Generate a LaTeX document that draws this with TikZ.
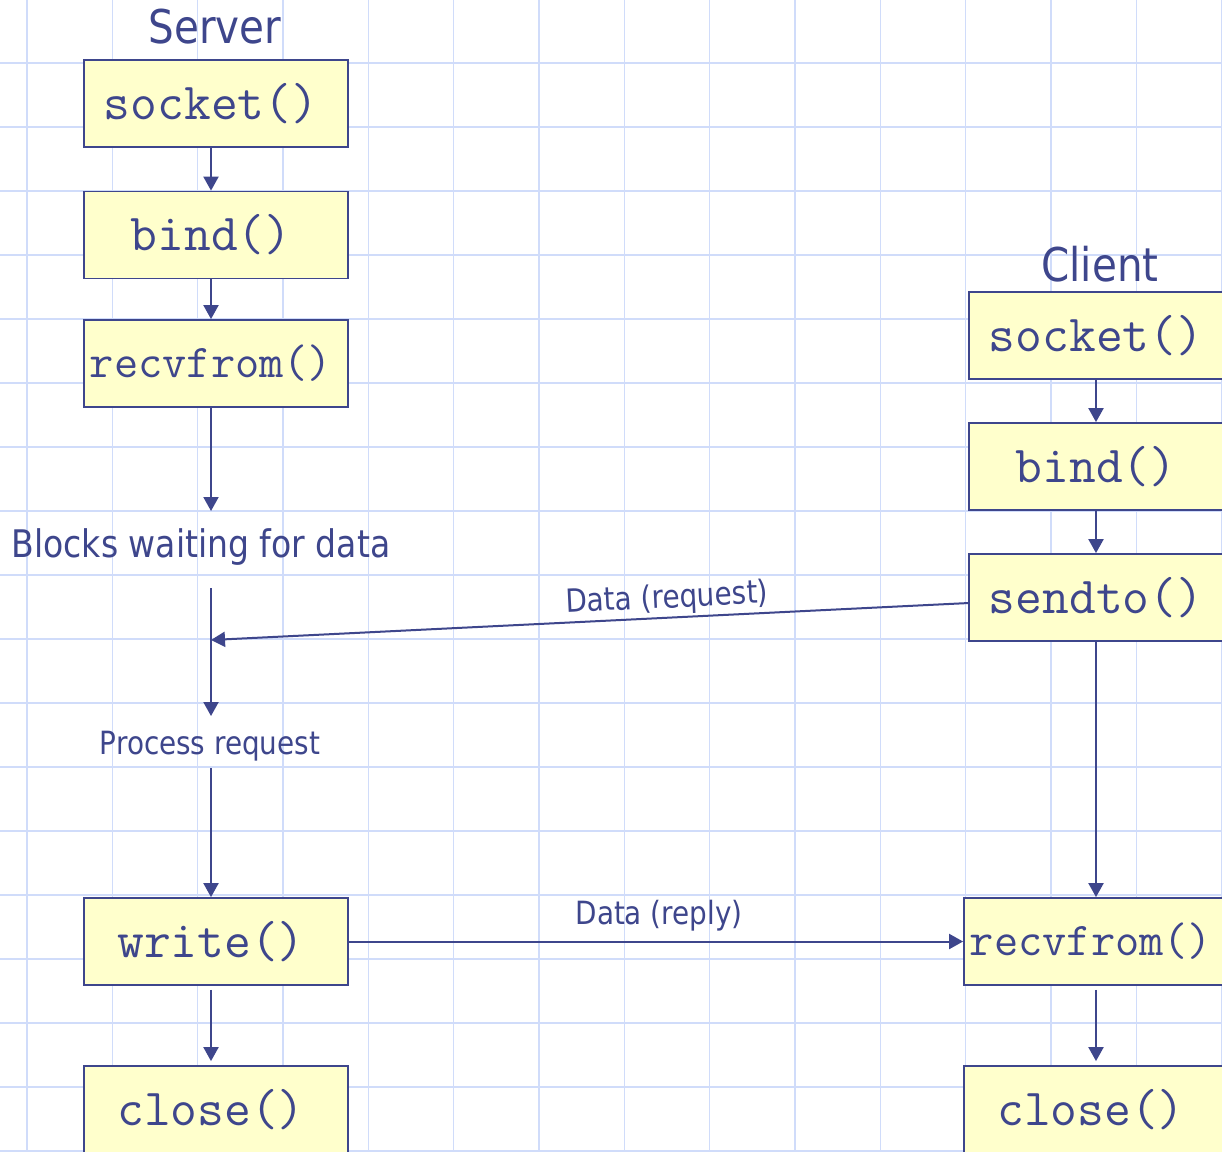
\documentclass[tikz,border=0pt]{standalone}
\usepackage{fontspec}
\setmainfont[FakeStretch=0.87]{DejaVu Sans}
\usetikzlibrary{arrows.meta}
\definecolor{ink}{RGB}{62,70,140}
\definecolor{gridc}{RGB}{208,220,250}
\definecolor{boxfill}{RGB}{255,255,204}
\begin{document}
\begin{tikzpicture}[x=1pt,y=-1pt,
  gridline/.style={draw=gridc, line width=1.4pt},
  callbox/.style={draw=ink, fill=boxfill, line width=1.8pt, minimum width=264pt,
    minimum height=87pt, inner sep=0pt, text=ink,
    font=\ttfamily\fontsize{52}{56}\selectfont, execute at end node={\kern10pt}},
  smallcall/.style={callbox, font=\ttfamily\fontsize{47}{50}\selectfont},
  title/.style={text=ink, inner sep=0pt, font=\fontsize{46.5}{50}\selectfont},
  note/.style={text=ink, inner sep=0pt, font=\fontsize{38}{42}\selectfont},
  lbl/.style={text=ink, inner sep=0pt, font=\fontsize{32}{36}\selectfont},
  arr/.style={draw=ink, line width=2pt, -{Triangle[length=14pt,width=15pt]}},
  seg/.style={draw=ink, line width=2pt}
]
\fill[white] (0,0) rectangle (1222,1151);
\useasboundingbox (0,0) rectangle (1222,1151);
% grid
\foreach \i in {0,...,14} \draw[gridline] ({27+85.333*\i},0) -- ({27+85.333*\i},1151);
\foreach \j in {0,...,17} \draw[gridline] (0,{63+64*\j}) -- (1222,{63+64*\j});

% titles
\node[title] (server) at (215,27) {Server};
\node[title] (client) at (1100,264) {Client};

% server boxes
\node[callbox] (ssock) at (216,103.5) {socket()};
\node[callbox] (sbind) at (216,235) {bind()};
\node[smallcall] (srecv) at (216,363.5) {recvfrom()};
\node[callbox] (swrite) at (216,941.5) {write()};
\node[callbox] (sclose) at (216,1109.5) {close()};

% client boxes
\node[callbox] (csock) at (1101,335.5) {socket()};
\node[callbox] (cbind) at (1101,466.5) {bind()};
\node[callbox] (csend) at (1101,597.5) {sendto()};
\node[smallcall] (crecv) at (1096,941.5) {recvfrom()};
\node[callbox] (cclose) at (1096,1109.5) {close()};

% server texts
\node[note] (blocks) at (201,547) {Blocks waiting for data};
\node[lbl] (process) at (210,746) {Process request};

% free ends
\coordinate (w1) at (211,511);
\coordinate (w2) at (211,588);
\coordinate (w3) at (211,716);
\coordinate (w4) at (211,768);
\coordinate (hit) at (211,640);
\coordinate (sendout) at (969,603);

% server arrows
\draw[arr] ([xshift=-5pt]ssock.south) -- ([xshift=-5pt]sbind.north);
\draw[arr] ([xshift=-5pt]sbind.south) -- ([xshift=-5pt]srecv.north);
\draw[arr] ([xshift=-5pt]srecv.south) -- (w1);
\draw[arr] (w2) -- (w3);
\draw[arr] (w4) -- ([xshift=-5pt]swrite.north);
\draw[arr] ([xshift=-5pt,yshift=-4pt]swrite.south) -- ([xshift=-5pt,yshift=4pt]sclose.north);

% client arrows
\draw[arr] ([xshift=-5pt]csock.south) -- ([xshift=-5pt]cbind.north);
\draw[arr] ([xshift=-5pt]cbind.south) -- ([xshift=-5pt]csend.north);
\draw[arr] ([xshift=-5pt]csend.south) -- (crecv.north);
\draw[arr] ([yshift=-4pt]crecv.south) -- ([yshift=4pt]cclose.north);

% data exchange
\draw[arr] (sendout) -- (hit);
\node[lbl, rotate=2.8] (dreq) at (667,599) {Data (request)};
\draw[arr] (swrite.east) -- (crecv.west);
\node[lbl] (drep) at (659,916) {Data (reply)};
\end{tikzpicture}
\end{document}
